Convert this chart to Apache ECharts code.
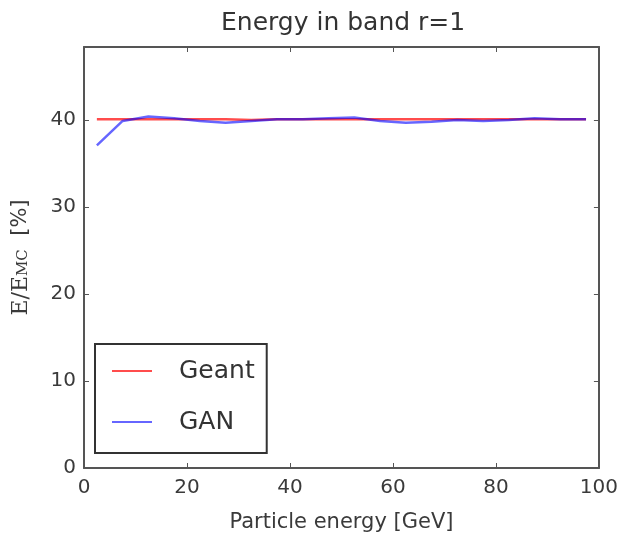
<!DOCTYPE html>
<html>
<head>
<meta charset="utf-8">
<script src="https://cdn.jsdelivr.net/npm/echarts@6/dist/echarts.min.js"></script>
<style>
  html, body { margin: 0; padding: 0; background: #fff; }
  #chart { width: 621px; height: 542px; }
</style>
</head>
<body>
<div id="chart"></div>
<script>
// particle energy bins [GeV]
const energies = [2.5, 7.5, 12.5, 17.5, 22.5, 27.5, 32.5, 37.5, 42.5, 47.5,
                  52.5, 57.5, 62.5, 67.5, 72.5, 77.5, 82.5, 87.5, 92.5, 97.5];
const geant = [40.1, 40.1, 40.1, 40.1, 40.1, 40.1, 40.0, 40.1, 40.1, 40.1,
               40.1, 40.1, 40.1, 40.1, 40.1, 40.1, 40.1, 40.1, 40.1, 40.1];
const gan = [37.1, 39.9, 40.4, 40.2, 39.9, 39.7, 39.9, 40.1, 40.1, 40.2,
             40.3, 39.9, 39.7, 39.8, 40.0, 39.9, 40.0, 40.2, 40.1, 40.1];
const xTicks = [0, 20, 40, 60, 80, 100];
const yTicks = [0, 10, 20, 30, 40];

const font = '"DejaVu Sans", sans-serif';
const axisColor = '#555';
const labelColor = '#3a3a3a';
const yMax = 48.4;

const myChart = echarts.init(document.getElementById('chart'));

const pairs = (ys) => energies.map((x, i) => [x, ys[i]]);

// frame axes: matplotlib style, ticks pointing inward on every side
const frameAxis = (pos, isX) => ({
  type: 'value',
  position: pos,
  min: 0,
  max: isX ? 100 : yMax,
  interval: isX ? 20 : 10,
  axisLine: { show: true, onZero: false, lineStyle: { color: axisColor, width: 2 } },
  axisTick: { show: true, inside: true, length: 5, lineStyle: { color: axisColor } },
  axisLabel: { show: false },
  splitLine: { show: false }
});

const option = {
  backgroundColor: '#fff',
  animation: false,
  title: {
    text: 'Energy in band r=1',
    left: 216,
    top: 6,
    textStyle: { fontFamily: font, fontSize: 25, fontWeight: 'normal', color: '#333' }
  },
  grid: { left: 84, right: 20, top: 47, bottom: 74 },
  legend: {
    orient: 'vertical',
    left: 95,
    top: 344,
    data: ['Geant', 'GAN'],
    icon: 'rect',
    itemWidth: 40,
    itemHeight: 2,
    itemGap: 21,
    padding: [12, 12, 16, 17],
    borderColor: '#333',
    borderWidth: 2,
    textStyle: { fontFamily: font, fontSize: 25, color: '#333', lineHeight: 30, padding: [0, 0, 0, 22] }
  },
  xAxis: [
    {
      type: 'value',
      position: 'bottom',
      min: 0,
      max: 100,
      interval: 20,
      name: 'Particle energy [GeV]',
      nameLocation: 'middle',
      nameGap: 44,
      nameTextStyle: { fontFamily: font, fontSize: 21, color: labelColor },
      axisLine: { show: true, onZero: false, lineStyle: { color: axisColor, width: 2 } },
      axisTick: { show: true, inside: true, length: 5, lineStyle: { color: axisColor } },
      axisLabel: {
        fontFamily: font, fontSize: 20, color: labelColor, margin: 10,
        formatter: (v) => xTicks.includes(v) ? String(v) : ''
      },
      splitLine: { show: false }
    },
    frameAxis('top', true)
  ],
  yAxis: [
    {
      type: 'value',
      position: 'left',
      min: 0,
      max: yMax,
      interval: 10,
      name: '{a|E/E}{b|MC}{c|  [%]}',
      nameLocation: 'middle',
      nameGap: 52,
      nameTextStyle: {
        color: labelColor,
        rich: {
          a: { fontFamily: '"DejaVu Serif", serif', fontSize: 22, color: labelColor },
          b: { fontFamily: '"DejaVu Serif", serif', fontSize: 15, color: labelColor, padding: [5, 0, 0, 0] },
          c: { fontFamily: font, fontSize: 21, color: labelColor }
        }
      },
      axisLine: { show: true, onZero: false, lineStyle: { color: axisColor, width: 2 } },
      axisTick: { show: true, inside: true, length: 5, lineStyle: { color: axisColor } },
      axisLabel: {
        fontFamily: font, fontSize: 20, color: labelColor, margin: 8,
        showMaxLabel: false,
        formatter: (v) => yTicks.includes(v) ? String(v) : ''
      },
      splitLine: { show: false }
    },
    frameAxis('right', false)
  ],
  series: [
    {
      name: 'Geant',
      type: 'line',
      data: pairs(geant),
      symbol: 'none',
      color: 'rgba(255,0,0,0.7)',
      lineStyle: { width: 2.5, color: 'rgba(255,0,0,0.7)' }
    },
    {
      name: 'GAN',
      type: 'line',
      data: pairs(gan),
      symbol: 'none',
      color: 'rgba(0,0,255,0.6)',
      lineStyle: { width: 2.5, color: 'rgba(0,0,255,0.6)' }
    }
  ]
};

myChart.setOption(option);
</script>
</body>
</html>
